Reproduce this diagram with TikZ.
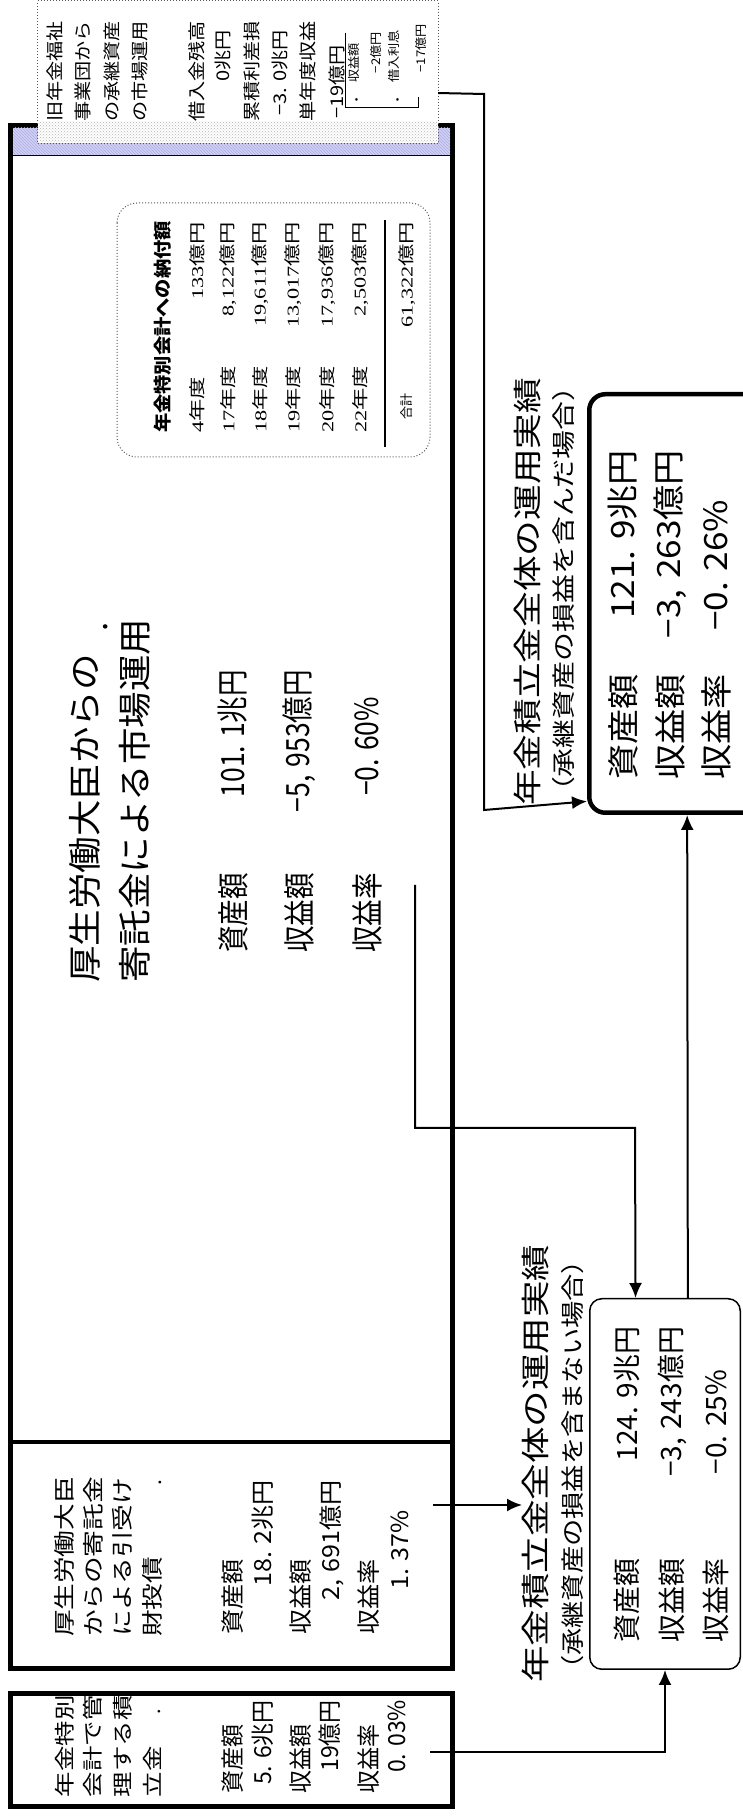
\documentclass[tikz,border=0pt]{standalone}
\usepackage{fontspec}
\usepackage{graphicx}
\usetikzlibrary{arrows.meta,patterns}
\setmainfont{Noto Sans CJK JP}
\newfontfamily\serfont{Liberation Serif}
\definecolor{lav}{HTML}{D2D2F6}
\definecolor{lavd}{HTML}{ABABE0}
\newcommand\tx[3]{{\fontsize{#1}{#1}\selectfont\scalebox{#2}[1]{#3}}}
\newcommand\mydot{.\kern.3em}
\newcommand\mycomma{,\kern.3em}
\tikzset{
  lbl/.style={inner sep=0pt, outer sep=0pt, anchor=west},
  lblr/.style={inner sep=0pt, outer sep=0pt, anchor=east},
  lblc/.style={inner sep=0pt, outer sep=0pt, anchor=center},
  heavybox/.style={draw, line width=5pt, fill=white, inner sep=0pt},
  conn/.style={line width=2pt},
  arr/.style={-{Latex[length=15pt,width=13pt]}},
}
\begin{document}
\begin{tikzpicture}[x=1pt,y=1pt]
\useasboundingbox (0,0) rectangle (743,1816);
\clip (0,0) rectangle (743,1816);
\begin{scope}[rotate=90, transform shape]
% ---- boxes ----
\node[heavybox, minimum width=113pt, minimum height=442pt] (boxA) at (66,-231.5) {};
\node[heavybox, minimum width=1543pt, minimum height=442pt] (boxB) at (919,-231.5) {};
\draw[line width=4pt] (374,-10.5) -- (374,-452.5);
\fill[lav] (1660,-13) rectangle (1688,-450);
\fill[pattern=north west lines, pattern color=lavd] (1660,-13) rectangle (1688,-450);
\draw[line width=1pt] (1660,-13) -- (1660,-450);
\node[fill=white, minimum width=142pt, minimum height=400pt, inner sep=0pt] (boxD) at (1744,-238) {};
\fill[pattern=crosshatch dots, pattern color=gray!60] (1673.5,-38.5) rectangle (1694,-437.5);
\draw[gray!70!black, dotted, line width=1pt] (boxD.south west) rectangle (boxD.north east);
\node[draw=gray!70!black, dotted, line width=1pt, rounded corners=20pt, minimum width=254pt, minimum height=313pt, inner sep=0pt] (tbl) at (1486,-273.5) {};
\node[draw, line width=4.5pt, rounded corners=16pt, fill=white, minimum width=418.5pt, minimum height=188.5pt, inner sep=0pt] (boxC) at (1212.5,-683.5) {};
\node[draw, line width=1.5pt, rounded corners=12pt, fill=white, minimum width=370.5pt, minimum height=150.5pt, inner sep=0pt] (boxE) at (332,-665) {};

% ---- box D text ----
\node[lbl] (d1) at (1694,-55) {\tx{17.5}{1.15}{旧年金福祉}};
\node[lbl] (d2) at (1694,-83) {\tx{17.5}{1.15}{事業団から}};
\node[lbl] (d3) at (1694,-112) {\tx{17.5}{1.15}{の承継資産}};
\node[lbl] (d4) at (1694,-140) {\tx{17.5}{1.15}{の市場運用}};
\node[lbl] (d5) at (1694,-197) {\tx{17.5}{1.15}{借入金残高}};
\node[lblr] (d6) at (1786,-223) {\tx{17.5}{1.15}{0兆円}};
\node[lbl] (d7) at (1694,-252) {\tx{17.5}{1.15}{累積利差損}};
\node[lblr] (d8) at (1786,-280) {\tx{17.5}{1.15}{−3\mydot0兆円}};
\node[lbl] (d9) at (1694,-308) {\tx{17.5}{1.15}{単年度収益}};
\node[lbl] (d10) at (1697,-337) {\tx{17.5}{1.15}{−19億円}};
\draw[line width=1pt] (1783,-345) -- (1708,-345) -- (1708,-418) -- (1719,-418);
\node[lblc] (d11) at (1716,-359) {\tx{12}{1.1}{・}};
\node[lbl] (d12) at (1733,-354) {\tx{12}{1.1}{収益額}};
\node[lblr] (d13) at (1784,-376) {\tx{12}{1.1}{−2億円}};
\node[lblc] (d14) at (1716,-400) {\tx{12}{1.1}{・}};
\node[lbl] (d15) at (1733,-394) {\tx{12}{1.1}{借入利息}};
\node[lblr] (d16) at (1792,-421) {\tx{12}{1.1}{−17億円}};

% ---- table ----
\node[lbl] (t0) at (1383,-163) {\tx{18}{1.07}{\bfseries 年金特別会計への納付額}};
\node[lbl] (t1) at (1383,-197) {\tx{16.5}{1.35}{{\serfont 4}年度}};
\node[lblr] (t2) at (1594,-197) {\tx{16.5}{1.35}{{\serfont 133}億円}};
\node[lbl] (t3) at (1383,-228) {\tx{16.5}{1.35}{{\serfont 17}年度}};
\node[lblr] (t4) at (1594,-228) {\tx{16.5}{1.35}{{\serfont 8,122}億円}};
\node[lbl] (t5) at (1383,-260) {\tx{16.5}{1.35}{{\serfont 18}年度}};
\node[lblr] (t6) at (1594,-260) {\tx{16.5}{1.35}{{\serfont 19,611}億円}};
\node[lbl] (t7) at (1383,-293) {\tx{16.5}{1.35}{{\serfont 19}年度}};
\node[lblr] (t8) at (1594,-293) {\tx{16.5}{1.35}{{\serfont 13,017}億円}};
\node[lbl] (t9) at (1383,-327) {\tx{16.5}{1.35}{{\serfont 20}年度}};
\node[lblr] (t10) at (1594,-327) {\tx{16.5}{1.35}{{\serfont 17,936}億円}};
\node[lbl] (t11) at (1383,-360) {\tx{16.5}{1.35}{{\serfont 22}年度}};
\node[lblr] (t12) at (1594,-360) {\tx{16.5}{1.35}{{\serfont 2,503}億円}};
\draw[line width=1.5pt] (1369,-385) -- (1596,-385);
\node[lbl] (t13) at (1396,-407) {\tx{13}{1}{合計}};
\node[lblr] (t14) at (1594,-407) {\tx{16.5}{1.35}{{\serfont 61,322}億円}};

% ---- box B main ----
\node[lbl] (bt1) at (833,-85) {\tx{33.5}{1.09}{厚生労働大臣からの}};
\node[lbl] (bt2) at (833,-135) {\tx{33.5}{1.09}{寄託金による市場運用}};
\node[lblc] (btd) at (1189,-106) {\tx{33}{1}{.}};
\node[lbl] (bm1) at (863,-233) {\tx{32}{0.83}{資産額}};
\node[lblr] (bm2) at (1146,-233) {\tx{32}{0.83}{101\mydot1兆円}};
\node[lbl] (bm3) at (863,-299) {\tx{32}{0.83}{収益額}};
\node[lblr] (bm4) at (1146,-299) {\tx{32}{0.83}{−5\mycomma953億円}};
\node[lbl] (bm5) at (863,-367) {\tx{32}{0.83}{収益率}};
\node[lblr] (bm6) at (1119,-367) {\tx{32}{0.83}{−0\mydot60\%}};

% ---- box B left ----
\node[lbl] (bl1) at (179,-64) {\tx{21.5}{1.24}{厚生労働大臣}};
\node[lbl] (bl2) at (179,-93) {\tx{21.5}{1.24}{からの寄託金}};
\node[lbl] (bl3) at (179,-122) {\tx{21.5}{1.24}{による引受け}};
\node[lbl] (bl4) at (179,-152) {\tx{21.5}{1.24}{財投債}};
\node[lblc] (bld) at (333,-160) {\tx{21}{1}{.}};
\node[lbl] (bl5) at (181,-233) {\tx{23.5}{1.07}{資産額}};
\node[lblr] (bl6) at (336,-263) {\tx{23.5}{1.07}{18\mydot2兆円}};
\node[lbl] (bl7) at (181,-301) {\tx{23.5}{1.07}{収益額}};
\node[lblr] (bl8) at (336,-332) {\tx{23.5}{1.07}{2\mycomma691億円}};
\node[lbl] (bl9) at (181,-369) {\tx{23.5}{1.07}{収益率}};
\node[lblr] (bl10) at (306,-400) {\tx{23.5}{1.07}{1\mydot37\%}};

% ---- box A ----
\node[lbl] (a1t) at (19,-65) {\tx{20.5}{1.24}{年金特別}};
\node[lbl] (a2t) at (19,-93) {\tx{20.5}{1.24}{会計で管}};
\node[lbl] (a3t) at (19,-123) {\tx{20.5}{1.24}{理する積}};
\node[lbl] (a4t) at (19,-152) {\tx{20.5}{1.24}{立金}};
\node[lblc] (a5t) at (104,-159) {\tx{20}{1}{.}};
\node[lbl] (a6t) at (22,-233) {\tx{23.5}{0.98}{資産額}};
\node[lblr] (a7t) at (116,-263) {\tx{23.5}{0.98}{5\mydot6兆円}};
\node[lbl] (a8t) at (22,-301) {\tx{23.5}{0.98}{収益額}};
\node[lblr] (a9t) at (116,-330) {\tx{23.5}{0.98}{19億円}};
\node[lbl] (a10t) at (22,-369) {\tx{23.5}{0.98}{収益率}};
\node[lblr] (a11t) at (116,-397) {\tx{23.5}{0.98}{0\mydot03\%}};

% ---- titles ----
\node[lbl] (ttlE) at (133,-535) {\tx{29}{1.26}{年金積立金全体の運用実績}};
\node[lbl] (subE) at (133,-573) {\tx{23.5}{1.16}{（承継資産の損益を含まない場合）}};
\node[lbl] (ttlC) at (1010,-527) {\tx{29}{1.23}{年金積立金全体の運用実績}};
\node[lbl] (subC) at (1010,-564) {\tx{23.5}{1.23}{（承継資産の損益を含んだ場合）}};

% ---- box E values ----
\node[lbl] (e1) at (173,-627) {\tx{28}{1.0}{資産額}};
\node[lblr] (e2) at (489,-627) {\tx{28}{1.0}{124\mydot9兆円}};
\node[lbl] (e3) at (173,-672) {\tx{28}{1.0}{収益額}};
\node[lblr] (e4) at (489,-672) {\tx{28}{1.0}{−3\mycomma243億円}};
\node[lbl] (e5) at (173,-716) {\tx{28}{1.0}{収益率}};
\node[lblr] (e6) at (446,-716) {\tx{28}{1.0}{−0\mydot25\%}};

% ---- box C values ----
\node[lbl] (c1) at (1036,-623) {\tx{32}{1.1}{資産額}};
\node[lblr] (c2) at (1366,-623) {\tx{32}{1.1}{121\mydot9兆円}};
\node[lbl] (c3) at (1036,-670) {\tx{32}{1.1}{収益額}};
\node[lblr] (c4) at (1366,-670) {\tx{32}{1.1}{−3\mycomma263億円}};
\node[lbl] (c5) at (1036,-716) {\tx{32}{1.1}{収益率}};
\node[lblr] (c6) at (1316,-716) {\tx{32}{1.1}{−0\mydot26\%}};

% ---- connectors ----
\coordinate (pA) at (64,-430);
\draw[conn,arr] (pA) -- (64,-665) -- (boxE.west);
\coordinate (pB) at (311,-433);
\coordinate (pBe) at (311,-522);
\draw[conn,arr] (pB) -- (pBe);
\coordinate (pM) at (931,-415);
\draw[conn,arr] (pM) -- (688,-415) -- (688,-635) -- (boxE.9.2);
\draw[conn,arr] (boxE.-7.7) -- (boxC.181.8);
\draw[conn,arr] (boxD.-96.3) -- (1722,-484) -- (1006,-484) -- (boxC.154.95);
\end{scope}
\end{tikzpicture}
\end{document}
